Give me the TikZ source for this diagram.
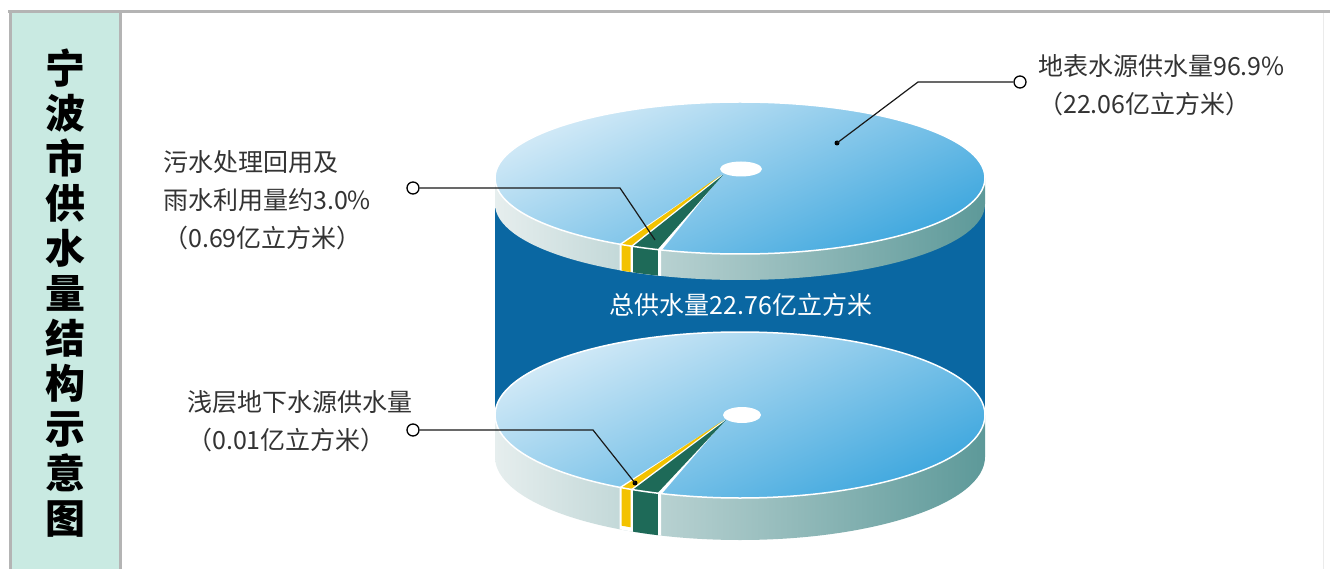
\documentclass[tikz,border=0pt]{standalone}
\usepackage{fontspec}
\setmainfont{Noto Sans CJK SC}
\definecolor{panelmint}{HTML}{C9EAE2}
\definecolor{framegray}{HTML}{B4B4B4}
\definecolor{labelgray}{HTML}{333333}
\definecolor{bodyblue}{HTML}{0A67A2}
\definecolor{rimlight}{HTML}{E6EEEE}
\definecolor{rimmid}{HTML}{BCD8D8}
\definecolor{rimdark}{HTML}{5D9999}
\definecolor{surflight}{HTML}{D3EAF7}
\definecolor{surfdark}{HTML}{3EA7DE}
\definecolor{wedgeyellow}{HTML}{F3C200}
\definecolor{wedgegreen}{HTML}{1E6A58}
\tikzset{
  lbl/.style={font=\fontsize{25}{38}\selectfont, text=labelgray, align=left, inner sep=0pt, anchor=west},
  ring/.style={circle, draw=black, fill=white, line width=1.3pt, minimum size=12pt, inner sep=0pt},
  dotn/.style={circle, fill=black, minimum size=5pt, inner sep=0pt},
  leader/.style={draw=black!90, line width=1.2pt},
  rimshade/.style={left color=rimlight, middle color=rimmid, right color=rimdark},
  surfshade/.style={top color=surflight, bottom color=surfdark, shading angle=25},
}
% rim segment: #1 cy, #2 ry, #3 thickness, #4 start, #5 end
\newcommand\rimseg[5]{(740,#1) ++(#4:245 and #2) arc[start angle=#4,end angle=#5,x radius=245,y radius=#2] -- ++(0,#3) arc[start angle=#5,end angle=#4,x radius=245,y radius=#2] -- cycle}
% surface sector: #1 cy, #2 ry, #3 apex, #4 start, #5 end
\newcommand\surfseg[5]{#3 -- ([shift={(740,#1)}]#4:245 and #2) arc[start angle=#4,end angle=#5,x radius=245,y radius=#2] -- cycle}
\begin{document}
\begin{tikzpicture}[x=1pt,y=-1pt]
\useasboundingbox (0,0) rectangle (1330,569);
\fill[white] (0,0) rectangle (1330,569);
% frame and title panel
\fill[panelmint] (10,12) rectangle (120,569);
\draw[framegray, line width=3pt] (8,11.5) -- (1330,11.5);
\draw[framegray, line width=3pt] (10,11.5) -- (10,569);
\draw[framegray, line width=3pt] (120,11.5) -- (120,569);
\draw[black!8, line width=1pt] (1323,13) -- (1323,569);
\node[font=\fontsize{40}{45}\selectfont\bfseries, align=center, inner sep=0pt] (title) at (65,293) {宁\\波\\市\\供\\水\\量\\结\\构\\示\\意\\图};
% cylinder body
\fill[bodyblue] (495,178) rectangle (985,415);
\node[font=\fontsize{25}{30}\selectfont, text=white, inner sep=0pt] (total) at (741,305) {总供水量22.76亿立方米};
% bottom disk
\shade[rimshade] \rimseg{415}{83}{42}{0}{180};
\fill[white] \rimseg{415}{83}{42}{108.8}{119.4};
\fill[wedgeyellow] \rimseg{415}{83}{38}{116.5}{118.9};
\fill[wedgegreen] \rimseg{415}{83}{42}{109.6}{115.9};
\shade[surfshade] (740,415) ellipse[x radius=245, y radius=83];
\fill[white] \surfseg{415}{83}{(725,420)}{108.6}{119.5};
\fill[wedgeyellow] \surfseg{415}{83}{(724,420)}{116.5}{118.9};
\fill[wedgegreen] \surfseg{415}{83}{(726,420)}{109.7}{115.9};
\draw[white, line width=1.5pt] (740,415) ellipse[x radius=245, y radius=83];
\fill[white] (742,415) ellipse[x radius=19, y radius=8];
% top disk
\shade[rimshade] \rimseg{178}{76}{26}{0}{180};
\fill[white] \rimseg{178}{76}{26}{108.8}{119.4};
\fill[wedgeyellow] \rimseg{178}{76}{26}{116.5}{118.9};
\fill[wedgegreen] \rimseg{178}{76}{26}{109.6}{115.9};
\shade[surfshade] (740,178) ellipse[x radius=245, y radius=76];
\fill[white] \surfseg{178}{76}{(722,175)}{108.6}{119.5};
\fill[wedgeyellow] \surfseg{178}{76}{(721,175)}{116.5}{118.9};
\fill[wedgegreen] \surfseg{178}{76}{(723,175)}{109.7}{115.9};
\draw[white, line width=1.5pt] (740,178) ellipse[x radius=245, y radius=76];
\fill[white] (741,169) ellipse[x radius=21, y radius=7.5];
% labels
\node[lbl] (tSurf) at (1038,85) {地表水源供水量96.9\%\\（22.06亿立方米）};
\node[lbl] (tReuse) at (163,200) {污水处理回用及\\雨水利用量约3.0\%\\（0.69亿立方米）};
\node[lbl] (tGround) at (187,421) {浅层地下水源供水量\\（0.01亿立方米）};
% leader rings, corners and ends
\node[ring] (rSurf) at (1020,82) {};
\coordinate (kSurf) at (918,82);
\node[dotn] (dSurf) at (837,143) {};
\node[ring] (rReuse) at (413,188) {};
\coordinate (kReuse) at (620,188);
\coordinate (eReuse) at (655,240);
\node[ring] (rGround) at (413,430) {};
\coordinate (kGround) at (593,430);
\node[dotn] (dGround) at (635,483) {};
\draw[leader] (rSurf.west) -- (kSurf) -- (dSurf.center);
\draw[leader] (rReuse.east) -- (kReuse) -- (eReuse);
\draw[leader] (rGround.east) -- (kGround) -- (dGround.center);
\end{tikzpicture}
\end{document}
